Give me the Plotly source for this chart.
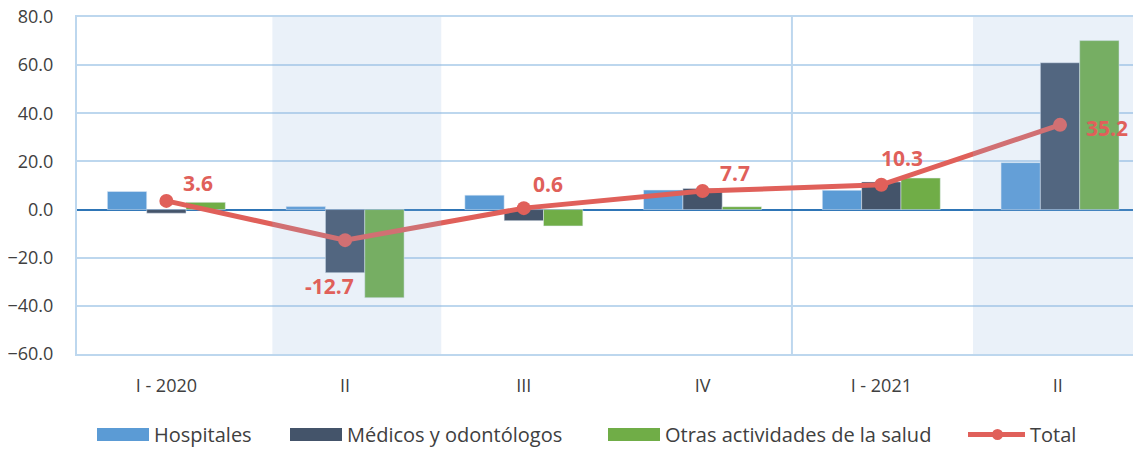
import plotly.graph_objects as go

categories = ["I - 2020", "II", "III", "IV", "I - 2021", "II "]
hospitales = [7.5, 1.3, 6.0, 8.1, 8.0, 19.5]
medicos = [-1.5, -26.2, -4.6, 8.8, 11.5, 61.0]
otras = [3.0, -36.6, -6.8, 1.2, 13.1, 70.2]
total = [3.6, -12.7, 0.6, 7.7, 10.3, 35.2]
y_ticks = [-60, -40, -20, 0, 20, 40, 60, 80]
series_names = ["Hospitales", "Médicos y odontólogos", "Otras actividades de la salud", "Total"]

label_offsets = [(32, 18), (-16, -46), (24, 24), (32, 18), (21, 27), (47, -3)]

x = list(range(len(categories)))
font_family = "Open Sans, Noto Sans, sans-serif"
text_color = "#404040"
grid_color = "#bdd7ee"
red = "#e0605a"
colors = ["#5b9bd5", "#44546a", "#70ad47"]

# figure geometry (page body adds an 8px offset)
W, H = 1133, 442
ML, MR, MT, MB = 69, 0, 9, 96
PW, PH = W - ML - MR, H - MT - MB
OFF = 8


def px(xs):
    return (xs - OFF - ML) / PW


def py(ys):
    return (H - MB - (ys - OFF)) / PH


fig = go.Figure()
for name, vals, col in zip(series_names[:3], [hospitales, medicos, otras], colors):
    fig.add_trace(go.Bar(x=x, y=vals, name=name, marker_color=col))
fig.add_trace(go.Scatter(x=x, y=total, name=series_names[3], mode="lines+markers",
                         line=dict(color=red, width=5),
                         marker=dict(color=red, size=14)))

for xi, v, (dx, dy) in zip(x, total, label_offsets):
    fig.add_annotation(x=xi, y=v, text=f"{v:.1f}", showarrow=False,
                       xshift=dx, yshift=dy,
                       font=dict(family=font_family, size=21, color=red, weight="bold"))

# shaded bands (drawn above, translucent)
for x0, x1 in [(0.593, 1.538), (4.513, 5.6)]:
    fig.add_shape(type="rect", xref="x", yref="y", x0=x0, x1=x1, y0=-60, y1=80,
                  fillcolor="rgba(144,178,223,0.19)", line_width=0, layer="above")
# year separator
fig.add_shape(type="line", xref="x", yref="y", x0=3.5, x1=3.5, y0=-60, y1=80,
              line=dict(color=grid_color, width=2), layer="below")

# legend (wide swatches as in the original)
leg_y0, leg_y1, leg_yc = 428, 441, 434.5
swatch_x = [97, 290, 608]
for sx, col, name in zip(swatch_x, colors, series_names[:3]):
    fig.add_shape(type="rect", xref="paper", yref="paper",
                  x0=px(sx), x1=px(sx + 52), y0=py(leg_y1), y1=py(leg_y0),
                  fillcolor=col, line_width=0)
    fig.add_annotation(xref="paper", yref="paper", x=px(sx + 55), y=py(leg_yc),
                       text=name, showarrow=False, xanchor="left", yanchor="middle",
                       font=dict(family=font_family, size=20, color=text_color))
fig.add_shape(type="line", xref="paper", yref="paper",
              x0=px(968), x1=px(1025), y0=py(leg_yc), y1=py(leg_yc),
              line=dict(color=red, width=5))
fig.add_shape(type="circle", xref="paper", yref="paper",
              x0=px(992), x1=px(1003), y0=py(leg_yc + 5.5), y1=py(leg_yc - 5.5),
              fillcolor=red, line_width=0)
fig.add_annotation(xref="paper", yref="paper", x=px(1028), y=py(leg_yc),
                   text=series_names[3], showarrow=False, xanchor="left", yanchor="middle",
                   font=dict(family=font_family, size=20, color=text_color))

fig.update_layout(
    width=W, height=H,
    margin=dict(l=ML, r=MR, t=MT, b=MB, autoexpand=False),
    paper_bgcolor="white", plot_bgcolor="white",
    barmode="group", bargap=0.34, bargroupgap=0,
    font=dict(family=font_family, color=text_color, size=18),
    showlegend=False,
)
fig.update_xaxes(tickvals=x, ticktext=categories, range=[-0.5, 5.453],
                 showline=True, linecolor=grid_color, linewidth=2, mirror=True,
                 showgrid=False, ticks="", ticklabelstandoff=14, automargin=False,
                 tickfont=dict(size=18, color=text_color))
fig.update_yaxes(range=[-60, 80], tickvals=y_ticks, tickformat=".1f",
                 showline=True, linecolor=grid_color, linewidth=2, mirror=False,
                 showgrid=True, gridcolor=grid_color, gridwidth=2,
                 zeroline=True, zerolinecolor="#2e75b6", zerolinewidth=2,
                 ticks="", ticklabelstandoff=18, automargin=False,
                 ticklabeloverflow="allow",
                 tickfont=dict(size=18, color=text_color))

fig.write_html("out.html")
